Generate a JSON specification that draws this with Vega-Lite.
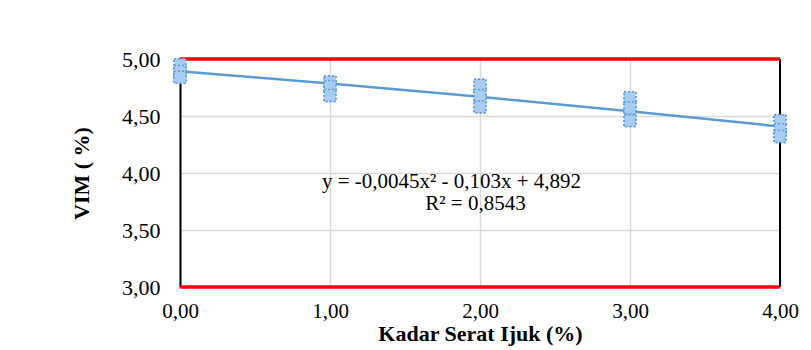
{
  "$schema": "https://vega.github.io/schema/vega-lite/v6.json",
  "autosize": "none",
  "width": 600,
  "height": 228,
  "padding": {"left": 180, "top": 59, "right": 31, "bottom": 63},
  "background": "white",
  "config": {
    "view": {"stroke": null},
    "font": "Liberation Serif"
  },
  "datasets": {
    "points": [
      {"kadar": 0, "vim": 4.95}, {"kadar": 0, "vim": 4.89}, {"kadar": 0, "vim": 4.84},
      {"kadar": 1, "vim": 4.80}, {"kadar": 1, "vim": 4.76}, {"kadar": 1, "vim": 4.68},
      {"kadar": 2, "vim": 4.77}, {"kadar": 2, "vim": 4.68}, {"kadar": 2, "vim": 4.58},
      {"kadar": 3, "vim": 4.66}, {"kadar": 3, "vim": 4.57}, {"kadar": 3, "vim": 4.46},
      {"kadar": 4, "vim": 4.46}, {"kadar": 4, "vim": 4.38}, {"kadar": 4, "vim": 4.32}
    ],
    "trend": [
      {"kadar": 0, "vim": 4.892}, {"kadar": 1, "vim": 4.7845}, {"kadar": 2, "vim": 4.668},
      {"kadar": 3, "vim": 4.5425}, {"kadar": 4, "vim": 4.408}
    ],
    "limits": [{"vim": 5.0}, {"vim": 3.0}],
    "labels": [
      {"kadar": 1.81, "vim": 3.925, "label": "y = -0,0045x² - 0,103x + 4,892"},
      {"kadar": 1.97, "vim": 3.73, "label": "R² = 0,8543"}
    ]
  },
  "layer": [
    {
      "data": {"name": "points"},
      "mark": {"type": "point", "shape": "square", "size": 140, "filled": true, "fill": "#a8cdf2", "stroke": "#5b9bd5", "strokeWidth": 1.5, "strokeDash": [2, 2], "opacity": 1},
      "encoding": {
        "x": {
          "field": "kadar", "type": "quantitative",
          "scale": {"domain": [0, 4], "nice": false, "zero": false},
          "axis": {
            "values": [0, 1, 2, 3, 4],
            "labelExpr": "replace(format(datum.value, '.2f'), '.', ',')",
            "title": "Kadar Serat Ijuk (%)",
            "titleFont": "Liberation Serif", "titleFontSize": 22, "titleFontWeight": "bold", "titleColor": "black",
            "titlePadding": 2,
            "labelFont": "Liberation Serif", "labelFontSize": 21, "labelColor": "black", "labelPadding": 13,
            "labelFlush": false,
            "domain": false, "ticks": false,
            "grid": true, "gridColor": "#d9d9d9", "gridWidth": 1.5
          }
        },
        "y": {
          "field": "vim", "type": "quantitative",
          "scale": {"domain": [3, 5], "nice": false, "zero": false},
          "axis": {
            "values": [3, 3.5, 4, 4.5, 5],
            "labelExpr": "replace(format(datum.value, '.2f'), '.', ',')",
            "title": "VIM ( %)",
            "titleFont": "Liberation Serif", "titleFontSize": 22, "titleFontWeight": "bold", "titleColor": "black",
            "titlePadding": 28,
            "labelFont": "Liberation Serif", "labelFontSize": 22, "labelColor": "black", "labelPadding": 20,
            "domain": true, "domainColor": "black", "domainWidth": 2,
            "ticks": false,
            "grid": true, "gridColor": "#d9d9d9", "gridWidth": 1.5
          }
        }
      }
    },
    {
      "data": {"values": [{"kadar": 4}]},
      "mark": {"type": "rule", "color": "black", "strokeWidth": 2},
      "encoding": {"x": {"field": "kadar", "type": "quantitative"}}
    },
    {
      "data": {"name": "limits"},
      "mark": {"type": "rule", "color": "#ff0000", "strokeWidth": 3.5},
      "encoding": {"y": {"field": "vim", "type": "quantitative"}}
    },
    {
      "data": {"name": "trend"},
      "mark": {"type": "line", "color": "#5b9bd5", "strokeWidth": 2.5},
      "encoding": {
        "x": {"field": "kadar", "type": "quantitative"},
        "y": {"field": "vim", "type": "quantitative"}
      }
    },
    {
      "data": {"name": "points"},
      "mark": {"type": "point", "shape": "square", "size": 140, "filled": true, "fill": "#a8cdf2", "stroke": "#5b9bd5", "strokeWidth": 1.5, "strokeDash": [2, 2], "opacity": 1},
      "encoding": {
        "x": {"field": "kadar", "type": "quantitative"},
        "y": {"field": "vim", "type": "quantitative"}
      }
    },
    {
      "data": {"name": "labels"},
      "mark": {"type": "text", "font": "Liberation Serif", "fontSize": 21, "color": "black", "align": "center", "baseline": "middle"},
      "encoding": {
        "x": {"field": "kadar", "type": "quantitative"},
        "y": {"field": "vim", "type": "quantitative"},
        "text": {"field": "label"}
      }
    }
  ]
}
